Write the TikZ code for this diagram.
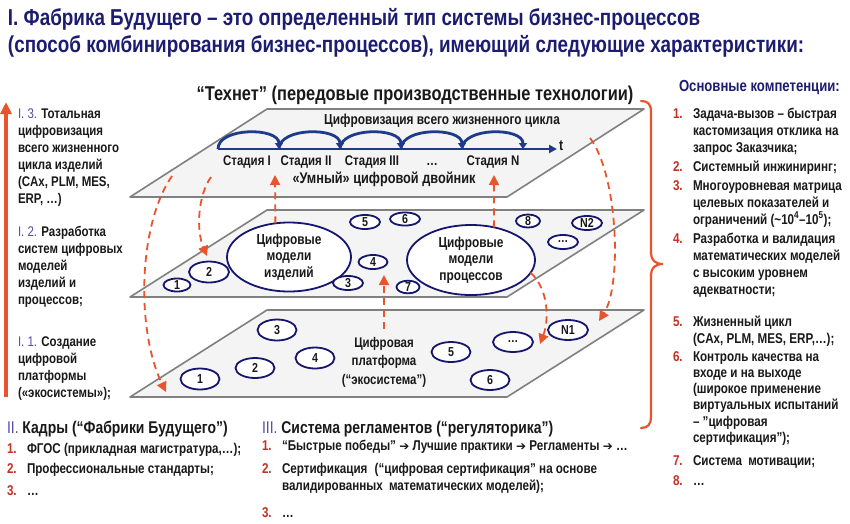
\documentclass[tikz,border=0pt]{standalone}
\usepackage{fontspec}
\setmainfont{Liberation Sans}[FakeStretch=0.82]
\newfontfamily\dejavu{DejaVu Sans}
\usetikzlibrary{arrows.meta,shapes.geometric}
\definecolor{navy}{RGB}{28,28,112}
\definecolor{ellc}{RGB}{22,22,110}
\definecolor{redc}{RGB}{232,84,44}
\definecolor{numc}{RGB}{196,48,36}
\definecolor{pref}{RGB}{88,72,168}
\definecolor{txt}{RGB}{25,25,25}
\definecolor{pedge}{RGB}{128,128,128}
\definecolor{pfill}{RGB}{244,244,244}
\definecolor{arcc}{RGB}{30,58,138}
\newcommand\myarr{{\dejavu\bfseries\fontsize{12}{14}\selectfont ➔}}
\begin{document}
\begin{tikzpicture}[x=1pt,y=-1pt,
  every node/.style={inner sep=0pt, outer sep=0pt, text=txt},
  ttl/.style={font=\bfseries\fontsize{23}{26}\selectfont, text=navy, anchor=base west},
  plane/.style={draw=pedge, fill=pfill, line width=1.6pt, line join=round},
  bigell/.style={ellipse, draw=ellc, fill=white, line width=1.8pt, align=center, font=\bfseries\fontsize{14.5}{16.5}\selectfont},
  sell/.style={ellipse, draw=ellc, fill=white, line width=1.8pt, font=\bfseries\fontsize{13}{14}\selectfont},
  lbl/.style={font=\bfseries\fontsize{14}{16}\selectfont, anchor=base},
  rdash/.style={draw=redc, line width=1.8pt, dash pattern=on 7pt off 5pt, -{Triangle[length=10pt,width=10pt]}},
  arcl/.style={draw=arcc, line width=2.8pt, -{Triangle[length=6pt,width=8pt]}},
  blk/.style={font=\bfseries\fontsize{14}{17}\selectfont, align=left, anchor=north west},
  rblk/.style={font=\bfseries\fontsize{14.2}{17}\selectfont, align=left, anchor=north west},
  rline/.style={font=\bfseries\fontsize{14.2}{17}\selectfont, anchor=base west},
  num/.style={font=\bfseries\fontsize{14.2}{17}\selectfont, text=numc, anchor=base west},
  hdr/.style={font=\bfseries\fontsize{17}{20}\selectfont, anchor=base west},
]
\useasboundingbox (0,0) rectangle (850,523);
\fill[white] (0,0) rectangle (850,523);

% title
\node[ttl] (t1) at (8,25) {I. Фабрика Будущего – это определенный тип системы бизнес-процессов};
\node[ttl] (t2) at (8,52) {(способ комбинирования бизнес-процессов), имеющий следующие характеристики:};

% planes
\draw[plane] (130,197) -- (507,197) -- (644,109) -- (267,109) -- cycle;
\draw[plane] (130,297) -- (507,297) -- (644,210) -- (267,210) -- cycle;
\draw[plane] (130,397) -- (507,397) -- (644,310) -- (267,310) -- cycle;

% top plane
\node[font=\bfseries\fontsize{20}{22}\selectfont, anchor=base] (tech) at (415,100) {“Технет” (передовые производственные технологии)};
\node[font=\bfseries\fontsize{14.5}{16}\selectfont, anchor=base] (lcycle) at (442,124) {Цифровизация всего жизненного цикла};
\foreach \i in {0,...,5} \coordinate (s\i) at ({218+61*\i},149);
\coordinate (tend) at (557,149);
\draw[draw=arcc, line width=2pt, -{Triangle[length=8pt,width=8pt]}] (s0) -- (tend);
\node[font=\bfseries\fontsize{15}{16}\selectfont, anchor=west] (tl) at (559,146) {t};
\foreach \i [evaluate=\i as \j using {int(\i+1)}] in {0,...,4}
  \draw[arcl] (s\i) .. controls ({218+61*\i},127) and ({279+61*\i},127) .. (s\j);
\node[lbl] (st1) at (247,165) {Стадия I};
\node[lbl] (st2) at (306,165) {Стадия II};
\node[lbl] (st3) at (372,165) {Стадия III};
\node[lbl] (st4) at (432,165) {…};
\node[lbl] (st5) at (493,165) {Стадия N};
\node[font=\bfseries\fontsize{15.5}{17}\selectfont, anchor=base] (twin) at (384,183) {«Умный» цифровой двойник};

% middle plane
\node[bigell, minimum width=124pt, minimum height=69pt] (mi) at (289,257) {Цифровые\\модели\\изделий};
\node[bigell, minimum width=128pt, minimum height=70pt] (mp) at (471,260) {Цифровые\\модели\\процессов};
\node[sell, minimum width=27pt, minimum height=13pt] (m1) at (177,285) {1};
\node[sell, minimum width=40pt, minimum height=21pt] (m2) at (209,272) {2};
\node[sell, minimum width=30pt, minimum height=14pt] (m5) at (365,222) {5};
\node[sell, minimum width=30pt, minimum height=13pt] (m6) at (405,219) {6};
\node[sell, minimum width=29pt, minimum height=14pt] (m4) at (373,262) {4};
\node[sell, minimum width=30pt, minimum height=14pt] (m3) at (348,283) {3};
\node[sell, minimum width=23pt, minimum height=12pt] (m7) at (408,287) {7};
\node[sell, minimum width=24pt, minimum height=12pt] (m8) at (528,221) {8};
\node[sell, minimum width=30pt, minimum height=14pt] (mN) at (587,223) {N2};
\node[sell, minimum width=30pt, minimum height=14pt] (md) at (563,242) {…};

% bottom plane
\node[font=\bfseries\fontsize{14}{18.5}\selectfont, align=center] (plat) at (384,362) {Цифровая\\платформа\\(“экосистема”)};
\node[sell, minimum width=39pt, minimum height=21pt] (b3) at (277,330) {3};
\node[sell, minimum width=39pt, minimum height=21pt] (b4) at (315,358) {4};
\node[sell, minimum width=39pt, minimum height=20pt] (b2) at (255,368) {2};
\node[sell, minimum width=39pt, minimum height=21pt] (b1) at (200,379) {1};
\node[sell, minimum width=39pt, minimum height=20pt] (b5) at (451,352) {5};
\node[sell, minimum width=39pt, minimum height=20pt] (b6) at (490,380) {6};
\node[sell, minimum width=40pt, minimum height=20pt] (bd) at (513,342) {…};
\node[sell, minimum width=40pt, minimum height=20pt] (bN) at (568,330) {N1};

% red dashed arrows
\coordinate (a1tip) at (275,175);
\coordinate (a2tip) at (494,175);
\coordinate (a3tip) at (384,275);
\draw[rdash] (mi.112) -- (a1tip);
\draw[rdash] (mp.55) -- (a2tip);
\draw[rdash] ([yshift=8pt]plat.north) -- (a3tip);
\coordinate (cA0) at (172,176); \coordinate (cAt) at (166,392);
\draw[rdash] (cA0) .. controls (138,225) and (136,330) .. (cAt);
\coordinate (cB0) at (211,177); \coordinate (cBt) at (207,256);
\draw[rdash] (cB0) .. controls (198,195) and (196,230) .. (cBt);
\coordinate (cC0) at (590,138); \coordinate (cCt) at (599,321);
\draw[rdash] (cC0) .. controls (618,175) and (622,285) .. (cCt);
\coordinate (cDt) at (540,344);
\draw[rdash] (mp.-12) .. controls (549,290) and (549,320) .. (cDt);

% left arrow
\coordinate (lb) at (6,397); \coordinate (lt) at (6,102);
\draw[redc, line width=3.2pt, -{Triangle[length=12pt,width=11pt]}] (lb) -- (lt);

% left column
\node[blk] (l3) at (18,106.1) {\strut{\mdseries\color{pref}I. 3.} Тотальная\\цифровизация\\всего жизненного\\цикла изделий\\(CAx, PLM, MES,\\ERP, …)};
\node[blk] (l2) at (18,224.1) {\strut{\mdseries\color{pref}I. 2.} Разработка\\систем цифровых\\моделей\\изделий и\\процессов;};
\node[blk] (l1) at (18,334.1) {\strut{\mdseries\color{pref}I. 1.} Создание\\цифровой\\платформы\\(«экосистемы»);};

% brace
\draw[redc, line width=2.2pt, line cap=round] (641,101) .. controls (648,101) and (651,104) .. (651,112)
  -- (651,253) .. controls (651,260) and (655,264) .. (663,264)
  .. controls (655,264) and (651,268) .. (651,275)
  -- (651,417) .. controls (651,424) and (648,428) .. (641,428);

% right column
\node[font=\bfseries\fontsize{16}{19}\selectfont, anchor=base west, text=navy] (comp) at (679,91) {Основные компетенции:};
\node[num] (n1) at (673,118) {1.};
\node[rblk] (r1) at (693,106.1) {\strut Задача-вызов – быстрая\\кастомизация отклика на\\запрос Заказчика;};
\node[num] (n2) at (673,171) {2.};
\node[rblk] (r2) at (693,159.1) {\strut Системный инжиниринг;};
\node[num] (n3) at (673,190) {3.};
\node[rblk] (r3) at (693,178.1) {\strut Многоуровневая матрица\\целевых показателей и\\ограничений (\textasciitilde10\textsuperscript{4}–10\textsuperscript{5});};
\node[num] (n4) at (673,243) {4.};
\node[rblk] (r4) at (693,231.1) {\strut Разработка и валидация\\математических моделей\\с высоким уровнем\\адекватности;};
\node[num] (n5) at (673,326) {5.};
\node[rblk] (r5) at (693,314.1) {\strut Жизненный цикл\\(CAx, PLM, MES, ERP,…);};
\node[num] (n6) at (673,361) {6.};
\node[rblk, font=\bfseries\fontsize{14.2}{16.3}\selectfont] (r6) at (693,349.6) {\strut Контроль качества на\\входе и на выходе\\(широкое применение\\виртуальных испытаний\\– "цифровая\\сертификация");};
\node[num] (n7) at (673,465) {7.};
\node[rline] (r7) at (693,465) {Система\hspace{3pt} мотивации;};
\node[num] (n8) at (673,485) {8.};
\node[rline] (r8) at (693,485) {…};

% bottom left
\node[hdr] (kad) at (7,433) {{\mdseries\color{pref}II.} Кадры (“Фабрики Будущего”)};
\node[num] (k1) at (7,453) {1.};
\node[rline] (kt1) at (27,453) {ФГОС (прикладная магистратура,…);};
\node[num] (k2) at (7,473) {2.};
\node[rline] (kt2) at (27,473) {Профессиональные стандарты;};
\node[num] (k3) at (7,495) {3.};
\node[rline] (kt3) at (27,495) {…};

% bottom middle
\node[hdr] (reg) at (262,433) {{\mdseries\color{pref}III.} Система регламентов (“регуляторика”)};
\node[num] (g1) at (262,450) {1.};
\node[rline] (gt1) at (282,450) {“Быстрые победы” \myarr\ Лучшие практики \myarr\ Регламенты \myarr\ …};
\node[num] (g2) at (262,473) {2.};
\node[rblk] (gt2) at (282,461.1) {\strut Сертификация\hspace{4pt} (“цифровая сертификация” на основе\\валидированных\hspace{3pt} математических моделей);};
\node[num] (g3) at (262,517) {3.};
\node[rline] (gt3) at (282,517) {…};
\end{tikzpicture}
\end{document}
